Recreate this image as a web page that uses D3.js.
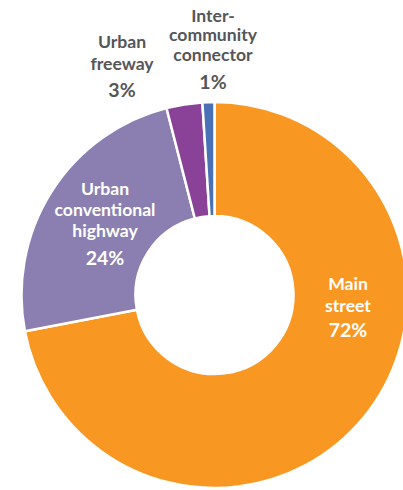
<!DOCTYPE html>
<html>
<head>
<meta charset="utf-8">
<script src="https://cdn.jsdelivr.net/npm/d3@7"></script>
<style>
  html, body { margin: 0; padding: 0; background: #fff; }
  svg { display: block; }
  text { font-family: Lato, "Open Sans", sans-serif; font-weight: 700; }
</style>
</head>
<body>
<svg id="chart" width="403" height="490"></svg>
<script>
// ---- data ----
const categories = ["Main street", "Urban conventional highway", "Urban freeway", "Inter-community connector"];
const values = [72, 24, 3, 1];
const colors = ["#F89823", "#8A7FB0", "#894298", "#4A71B5"];
const labelLines = [["Main", "street"], ["Urban", "conventional", "highway"], ["Urban", "freeway"], ["Inter-", "community", "connector"]];

// ---- layout ----
const W = 403, H = 490;
const cx = 214.5, cy = 295, R = 193, r = 79;
const labelLayout = [
  { x: 348, y: 290, gap: 21.5, pctGap: 25.5, inside: true },
  { x: 105, y: 195, gap: 21, pctGap: 28, inside: true },
  { x: 122, y: 48, gap: 21.5, pctGap: 27.5, inside: false },
  { x: 213, y: 21.5, gap: 19.8, pctGap: 28, inside: false }
];

const svg = d3.select("#chart");

const pie = d3.pie().sort(null).value(d => d)(values);
const arc = d3.arc().innerRadius(r).outerRadius(R);

const g = svg.append("g").attr("transform", `translate(${cx},${cy})`);
g.selectAll("path")
  .data(pie)
  .join("path")
  .attr("d", arc)
  .attr("fill", (d, i) => colors[i])
  .attr("stroke", "#fff")
  .attr("stroke-width", 2.5)
  .attr("stroke-linejoin", "miter");

const labels = svg.append("g");
categories.forEach((c, i) => {
  const L = labelLayout[i];
  const fill = L.inside ? "#ffffff" : "#555658";
  const t = labels.append("text")
    .attr("text-anchor", "middle")
    .attr("fill", fill)
    .attr("font-size", 17.6);
  labelLines[i].forEach((line, j) => {
    t.append("tspan").attr("x", L.x).attr("y", L.y + j * L.gap).text(line);
  });
  const n = labelLines[i].length;
  labels.append("text")
    .attr("text-anchor", "middle")
    .attr("fill", fill)
    .attr("font-size", 19.5)
    .attr("x", L.x)
    .attr("y", L.y + (n - 1) * L.gap + L.pctGap)
    .text(values[i] + "%");
});
</script>
</body>
</html>
